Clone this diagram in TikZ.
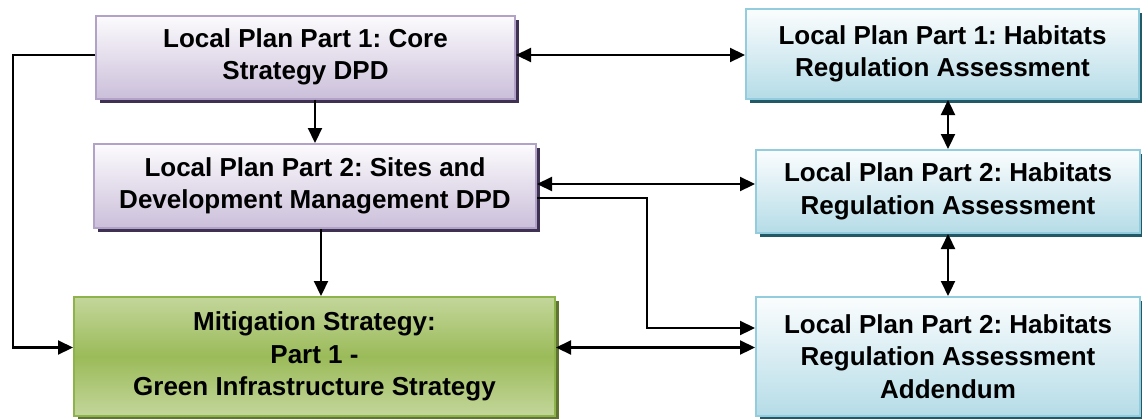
\documentclass[tikz,border=0pt]{standalone}
\usepackage{fontspec}
\setmainfont{Liberation Sans}
\usetikzlibrary{arrows.meta,shadows,calc}
\definecolor{pBorder}{HTML}{B3A2C7}
\definecolor{pFill}{HTML}{CBBFDA}
\definecolor{pTop}{HTML}{FCFBFD}
\definecolor{pShadow}{HTML}{3F3151}
\definecolor{bBorder}{HTML}{93CDDD}
\definecolor{bFill}{HTML}{B5DCE7}
\definecolor{bTop}{HTML}{FBFDFE}
\definecolor{bShadow}{HTML}{215967}
\definecolor{gBorder}{HTML}{8EB24C}
\definecolor{gLight}{HTML}{C3D69B}
\definecolor{gDark}{HTML}{9BBB59}
\definecolor{gShadow}{HTML}{5F7530}
\pgfdeclareverticalshading{greensh}{100bp}{color(0bp)=(gLight); color(25bp)=(gLight); color(50bp)=(gDark); color(75bp)=(gLight); color(100bp)=(gLight)}
\frenchspacing
\tikzset{
  boxtext/.style={inner sep=0pt, align=center, text=black,
    font=\fontsize{26}{32.5}\selectfont\bfseries, line width=2pt},
  pbox/.style={boxtext, draw=pBorder, top color=pTop, bottom color=pFill,
    drop shadow={shadow xshift=4pt, shadow yshift=-4pt, fill=pShadow, opacity=1}},
  bbox/.style={boxtext, draw=bBorder, top color=bTop, bottom color=bFill,
    drop shadow={shadow xshift=4pt, shadow yshift=-4pt, fill=bShadow, opacity=1}},
  gbox/.style={boxtext, draw=gBorder, shade, shading=greensh,
    drop shadow={shadow xshift=4pt, shadow yshift=-4pt, fill=gShadow, opacity=1}},
  conn/.style={line width=2.2pt, draw=black},
  arr/.style={conn, -{Triangle[length=15pt,width=14pt]}},
  darr/.style={conn, {Triangle[length=15pt,width=14pt]}-{Triangle[length=15pt,width=14pt]}}
}
\begin{document}
\begin{tikzpicture}[x=1pt,y=-1pt]
\useasboundingbox[fill=white] (0,0) rectangle (1142,418);
\node[pbox, minimum width=419pt, minimum height=83pt] (A) at (305.5,57) {Local Plan Part 1: Core\\Strategy DPD};
\node[bbox, minimum width=393pt, minimum height=90pt] (B1) at (942.5,54) {Local Plan Part 1: Habitats\\Regulation Assessment};
\node[pbox, minimum width=442pt, minimum height=84pt] (C) at (315,186) {Local Plan Part 2: Sites and\\Development Management DPD};
\node[bbox, minimum width=384pt, minimum height=83pt] (B2) at (948,191.5) {Local Plan Part 2: Habitats\\Regulation Assessment};
\node[gbox, minimum width=481pt, minimum height=119pt] (D) at (314.5,356.5) {Mitigation Strategy:\\Part 1 -\\Green Infrastructure Strategy};
\node[bbox, minimum width=384pt, minimum height=119pt] (B3) at (948,356.5) {Local Plan Part 2: Habitats\\Regulation Assessment\\Addendum};
\draw[darr] ([yshift=2pt]A.east) -- ([yshift=2pt]A.east -| B1.west);
\draw[darr] (B2.north) -- (B2.north |- B1.south);
\draw[darr] ([yshift=2pt]C.east) -- ([yshift=2pt]C.east -| B2.west);
\draw[arr] ([yshift=-12pt]C.east) -- ++(110,0) |- ([yshift=28.5pt]B3.west);
\draw[darr] (B3.north) -- (B3.north |- B2.south);
\draw[darr] ([yshift=9pt]D.east) -- ([yshift=9pt]D.east -| B3.west);
\draw[arr] (C.north |- A.south) -- (C.north);
\draw[arr] ([xshift=6pt]C.south) -- ([xshift=6pt]C.south |- D.north);
\draw[arr] ([yshift=2pt]A.west) -- ++(-82,0) |- ([yshift=9pt]D.west);
\end{tikzpicture}
\end{document}
